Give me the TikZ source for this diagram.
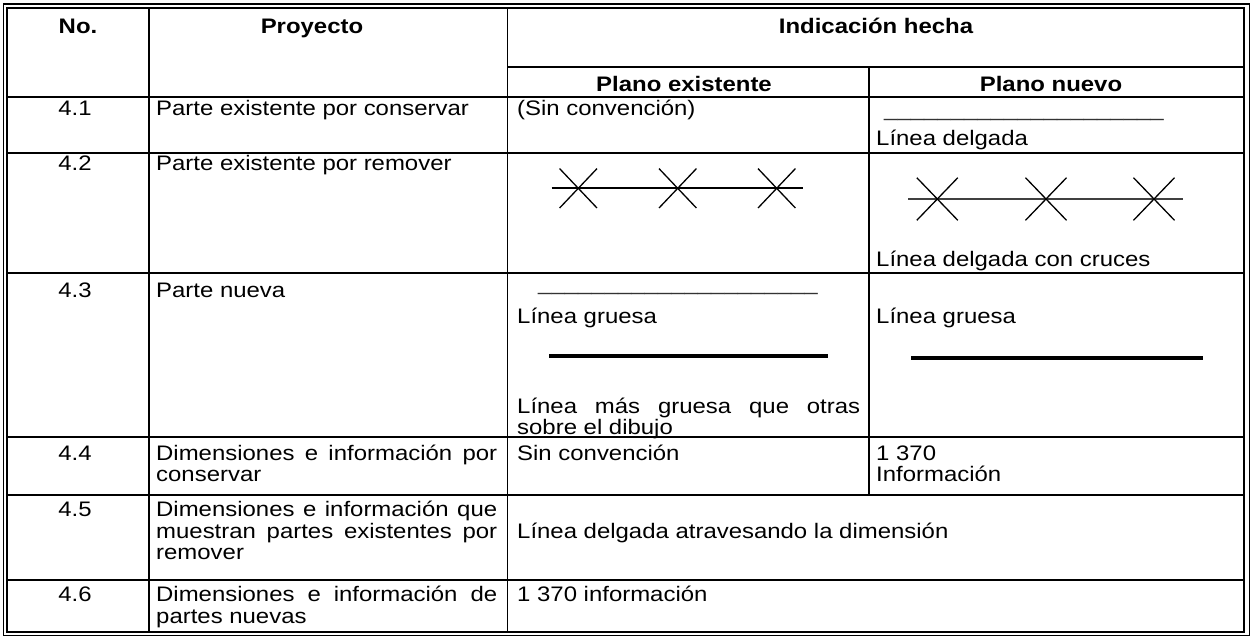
\documentclass[tikz,border=0pt]{standalone}
\usepackage{fontspec}
\setmainfont{Liberation Sans}[FakeStretch=1.14]
\usepackage{tikz}
\usetikzlibrary{positioning}
\hyphenpenalty=10000
\exhyphenpenalty=10000

\tikzset{
  every node/.style={inner sep=0pt, font=\fontsize{21}{21.7}\selectfont},
  txt/.style={anchor=base west},
  num/.style={anchor=base},
  hd/.style={anchor=base, font=\fontsize{21}{21.7}\selectfont\bfseries},
  jtext/.style={anchor=base west, text width=#1, align=justify},
  rule/.style={line width=1.8pt},
  frame/.style={line width=1.3pt},
  cross/.style={line width=1.3pt},
}

\begin{document}
\begin{tikzpicture}
\useasboundingbox (0pt,0pt) rectangle (1253pt,-637pt);
% double frame
\draw [frame] (3.3pt,-4pt) rectangle (1249.3pt,-635.7pt);
\draw [rule] (7.3pt,-8.3pt) rectangle (1244.3pt,-632pt);
% columns
\draw [rule] (149pt,-8.3pt) -- (149pt,-632pt);
\draw [rule] (507.5pt,-8.3pt) -- (507.5pt,-632pt);
\draw [rule] (869pt,-66.7pt) -- (869pt,-495pt);
% rows
\draw [rule] (507.5pt,-66.7pt) -- (1244.3pt,-66.7pt);
\foreach \y in {96.7,153.3,272.7,437,495,580}
  \draw [rule] (7.3pt,-\y pt) -- (1244.3pt,-\y pt);

% header
\node (hno) [hd] at (78pt,-33pt) {No.};
\node (hpro) [hd] at (312pt,-33pt) {Proyecto};
\node (hind) [hd] at (876pt,-33pt) {Indicación hecha};
\node (hex) [hd] at (684pt,-91.7pt) {Plano existente};
\node (hnu) [hd] at (1051pt,-91.7pt) {Plano nuevo};

% 4.1
\node (n41) [num] at (75pt,-115pt) {4.1};
\node (p41) [txt] at (156pt,-115pt) {Parte existente por conservar};
\node (e41) [txt] at (517pt,-115pt) {(Sin convención)};
\node (u41) [txt, black!80] at (884pt,-116pt) {\_\_\_\_\_\_\_\_\_\_\_\_\_\_\_\_\_\_\_\_\_};
\node (t41) [txt] at (876pt,-145pt) {Línea delgada};

% 4.2
\node (n42) [num] at (75pt,-170pt) {4.2};
\node (p42) [txt] at (156pt,-170pt) {Parte existente por remover};
\draw [line width=2pt] (551.7pt,-188.3pt) -- (802.7pt,-188.3pt);
\foreach \x in {578.3,677.7,776.7} {
  \draw [cross] (\x pt-18.7pt,-168.6pt) -- (\x pt+18.7pt,-208pt);
  \draw [cross] (\x pt-18.7pt,-208pt) -- (\x pt+18.7pt,-168.6pt);
}
\draw [line width=1.2pt, black!75] (908pt,-199pt) -- (1182.7pt,-199pt);
\foreach \x in {937.3,1046,1154} {
  \draw [cross] (\x pt-20.5pt,-177.7pt) -- (\x pt+20.5pt,-220.3pt);
  \draw [cross] (\x pt-20.5pt,-220.3pt) -- (\x pt+20.5pt,-177.7pt);
}
\node (t42) [txt] at (876pt,-266pt) {Línea delgada con cruces};

% 4.3
\node (n43) [num] at (75pt,-297pt) {4.3};
\node (p43) [txt] at (156pt,-297pt) {Parte nueva};
\node (u43) [txt, black!80] at (538pt,-290.5pt) {\_\_\_\_\_\_\_\_\_\_\_\_\_\_\_\_\_\_\_\_\_};
\node (e43) [txt] at (517pt,-323pt) {Línea gruesa};
\draw [line width=3.6pt] (549pt,-356pt) -- (827.7pt,-356pt);
\node (f43) [jtext=343pt] at (517pt,-413pt) {Línea más gruesa que otras sobre el dibujo};
\node (t43) [txt] at (876pt,-323pt) {Línea gruesa};
\draw [line width=4pt] (911pt,-357.7pt) -- (1202.7pt,-357.7pt);

% 4.4
\node (n44) [num] at (75pt,-460pt) {4.4};
\node (p44) [jtext=341pt] at (156pt,-460pt) {Dimensiones e información por conservar};
\node (e44) [txt] at (517pt,-460pt) {Sin convención};
\node (t44) [txt] at (876pt,-460pt) {1 370};
\node (i44) [txt] at (876pt,-481.7pt) {Información};

% 4.5
\node (n45) [num] at (75pt,-516.3pt) {4.5};
\node (p45) [jtext=341pt] at (156pt,-516.3pt) {Dimensiones e información que muestran partes existentes por remover};
\node (e45) [txt] at (517pt,-538pt) {Línea delgada atravesando la dimensión};

% 4.6
\node (n46) [num] at (75pt,-601.7pt) {4.6};
\node (p46) [jtext=341pt] at (156pt,-601.7pt) {Dimensiones e información de partes nuevas};
\node (e46) [txt] at (517pt,-601.7pt) {1 370 información};
\end{tikzpicture}
\end{document}
